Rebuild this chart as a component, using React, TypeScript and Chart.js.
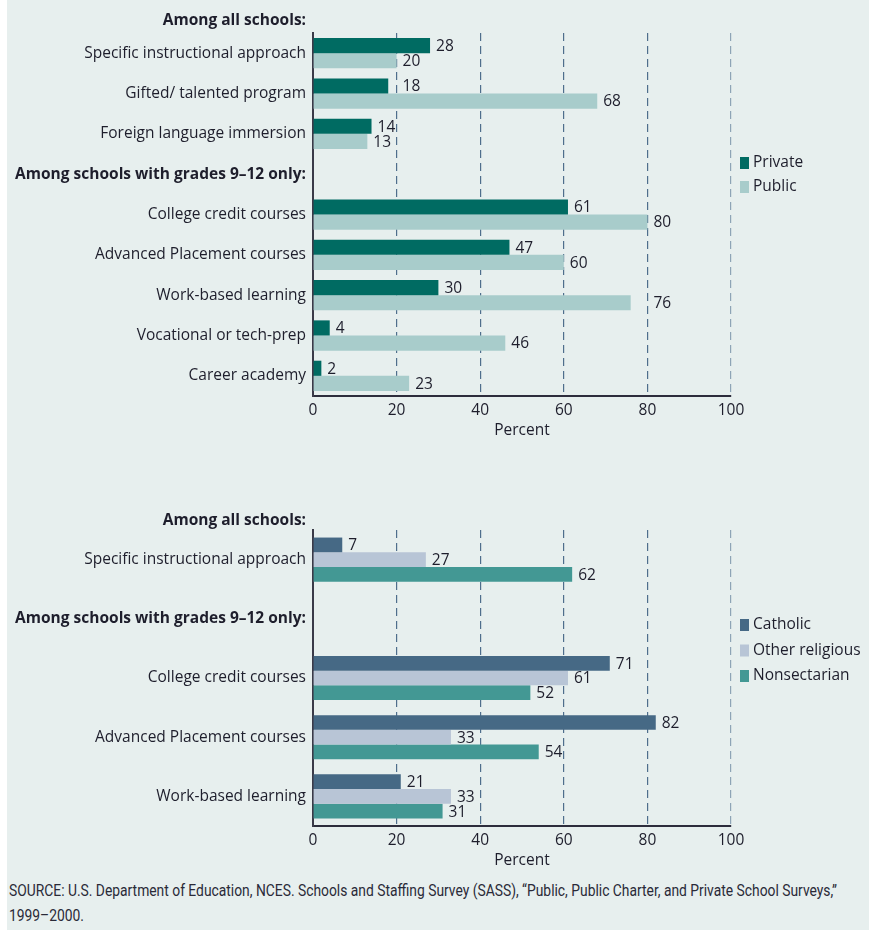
import React, { useEffect, useLayoutEffect, useRef } from "react";
import { Chart, registerables } from "chart.js";
Chart.register(...registerables);

const FONT = "'Open Sans', Lato, sans-serif";
const FS = 15.5;
const TEXT = "#1e1e2c";
const BG = "#e7efee";

// ---- Top chart data ----
const topHeader = "Among all schools:";
const topCategories = [
  "Specific instructional approach",
  "Gifted/ talented program",
  "Foreign language immersion",
  "Among schools with grades 9–12 only:",
  "College credit courses",
  "Advanced Placement courses",
  "Work-based learning",
  "Vocational or tech-prep",
  "Career academy",
];
const privateValues = [28, 18, 14, null, 61, 47, 30, 4, 2];
const publicValues = [20, 68, 13, null, 80, 60, 76, 46, 23];
const topSeriesNames = ["Private", "Public"];
const topColors = ["#006b62", "#a8cccb"];

// ---- Bottom chart data ----
const bottomHeader = "Among all schools:";
const bottomCategories = [
  "Specific instructional approach",
  "Among schools with grades 9–12 only:",
  "College credit courses",
  "Advanced Placement courses",
  "Work-based learning",
];
const catholicValues = [7, null, 71, 82, 21];
const otherReligiousValues = [27, null, 61, 33, 33];
const nonsectarianValues = [62, null, 52, 54, 31];
const bottomSeriesNames = ["Catholic", "Other religious", "Nonsectarian"];
const bottomColors = ["#466985", "#b8c5d6", "#439894"];

const xMin = 0;
const xMax = 100;
const xStep = 20;
const axisTitle = "Percent";
const sourceLine1 =
  "SOURCE: U.S. Department of Education, NCES. Schools and Staffing Survey (SASS), \u201CPublic, Public Charter, and Private School Surveys,\u201D";
const sourceLine2 = "1999\u20132000.";

type PanelProps = {
  top: number;
  height: number;
  padTop: number;
  header: string;
  headerGap: number;
  categories: string[];
  values: (number | null)[][];
  names: string[];
  colors: string[];
  legendTop: number;
  legendStep: number;
  catPct: number;
};

function BarPanel(p: PanelProps) {
  const ref = useRef<HTMLCanvasElement>(null);
  useEffect(() => {
    const isHeader = (s: string) => s.startsWith("Among");
    const valueLabels = {
      id: "valueLabels",
      afterDatasetsDraw(chart: any) {
        const ctx = chart.ctx;
        const xs = chart.scales.x;
        const grids: number[] = [];
        for (let v = xMin + xStep; v <= xMax; v += xStep) grids.push(xs.getPixelForValue(v));
        ctx.save();
        ctx.font = `${FS}px ${FONT}`;
        ctx.fillStyle = TEXT;
        ctx.textBaseline = "middle";
        ctx.textAlign = "left";
        chart.data.datasets.forEach((ds: any, i: number) => {
          const meta = chart.getDatasetMeta(i);
          meta.data.forEach((el: any, j: number) => {
            const v = ds.data[j];
            if (v == null) return;
            const txt = String(v);
            const w = ctx.measureText(txt).width;
            let x = el.x + 6;
            for (const g of grids) {
              if (g >= x - 2 && g <= x + w) x = g + 6;
            }
            ctx.fillText(txt, x, el.y + 1);
          });
        });
        ctx.restore();
      },
    };
    const extras = {
      id: "extras",
      afterDraw(chart: any) {
        const ctx = chart.ctx;
        const area = chart.chartArea;
        ctx.save();
        ctx.font = `bold ${FS}px ${FONT}`;
        ctx.fillStyle = TEXT;
        ctx.textAlign = "right";
        ctx.textBaseline = "middle";
        ctx.fillText(p.header, area.left - 7, area.top - p.headerGap);
        ctx.font = `${FS}px ${FONT}`;
        ctx.textAlign = "left";
        p.names.forEach((n, i) => {
          const y = area.top + p.legendTop + i * p.legendStep;
          ctx.fillStyle = p.colors[i];
          ctx.fillRect(area.right + 9, y - 6, 9, 12);
          ctx.fillStyle = TEXT;
          ctx.fillText(n, area.right + 22, y);
        });
        ctx.restore();
      },
    };
    const chart = new Chart(ref.current as HTMLCanvasElement, {
      type: "bar",
      data: {
        labels: p.categories,
        datasets: p.values.map((vals, i) => ({
          label: p.names[i],
          data: vals,
          backgroundColor: p.colors[i],
          borderWidth: 0,
          barPercentage: 1,
          categoryPercentage: p.catPct,
        })),
      },
      options: {
        indexAxis: "y",
        animation: false,
        responsive: true,
        maintainAspectRatio: false,
        layout: { padding: { top: p.padTop, right: 138, bottom: 0, left: 0 } },
        plugins: { legend: { display: false }, tooltip: { enabled: false } },
        scales: {
          x: {
            type: "linear",
            min: xMin,
            max: xMax,
            afterFit: (s: any) => {
              s.height = 49;
            },
            ticks: {
              stepSize: xStep,
              color: TEXT,
              font: { family: FONT, size: FS },
              padding: 5,
            },
            grid: {
              drawTicks: false,
              lineWidth: 1.2,
              color: (c: any) =>
                c.tick && c.tick.value === 0
                  ? "rgba(0,0,0,0)"
                  : c.tick && c.tick.value === 100
                  ? "#8ea4b6"
                  : "#4f6e8c",
            },
            border: { display: true, color: "#2d2d3c", width: 2, dash: [8, 5] },
            title: {
              display: true,
              text: axisTitle,
              color: TEXT,
              font: { family: FONT, size: FS },
              padding: { top: 0, bottom: 5 },
            },
          },
          y: {
            type: "category",
            afterFit: (s: any) => {
              s.width = 306;
            },
            ticks: {
              autoSkip: false,
              color: TEXT,
              padding: 7,
              font: (c: any) => ({
                family: FONT,
                size: FS,
                weight: isHeader(String(p.categories[c.index] ?? "")) ? "bold" : "normal",
              }),
            },
            grid: { display: false, drawTicks: false },
            border: { display: true, color: "#3a3a48", width: 2 },
          },
        },
      },
      plugins: [valueLabels, extras],
    } as any);
    return () => chart.destroy();
  }, []);
  return (
    <div style={{ position: "absolute", left: 0, top: p.top, width: 862, height: p.height }}>
      <canvas ref={ref} />
    </div>
  );
}

function Source() {
  const ref = useRef<HTMLDivElement>(null);
  useLayoutEffect(() => {
    const el = ref.current;
    if (!el) return;
    const first = el.firstElementChild as HTMLElement;
    const w = first.getBoundingClientRect().width;
    if (w > 0) el.style.transform = `scaleX(${828 / w})`;
  }, []);
  return (
    <div
      ref={ref}
      style={{
        position: "absolute",
        left: 2,
        top: 878,
        fontFamily: "Roboto, 'Noto Sans', sans-serif",
        fontSize: 16,
        lineHeight: "25px",
        color: "#2a2a38",
        whiteSpace: "nowrap",
        transformOrigin: "0 0",
      }}
    >
      <span style={{ display: "inline-block" }}>{sourceLine1}</span>
      <div>{sourceLine2}</div>
    </div>
  );
}

export default function App() {
  return (
    <div
      style={{
        position: "absolute",
        left: 7,
        top: 0,
        width: 862,
        height: 930,
        background: BG,
        overflow: "hidden",
      }}
    >
      <BarPanel
        top={0}
        height={445}
        padTop={33}
        header={topHeader}
        headerGap={12}
        categories={topCategories}
        values={[privateValues, publicValues]}
        names={topSeriesNames}
        colors={topColors}
        legendTop={130}
        legendStep={24}
        catPct={0.75}
      />
      <BarPanel
        top={445}
        height={430}
        padTop={85}
        header={bottomHeader}
        headerGap={9}
        categories={bottomCategories}
        values={[catholicValues, otherReligiousValues, nonsectarianValues]}
        names={bottomSeriesNames}
        colors={bottomColors}
        legendTop={95}
        legendStep={25.5}
        catPct={0.745}
      />
      <Source />
    </div>
  );
}
